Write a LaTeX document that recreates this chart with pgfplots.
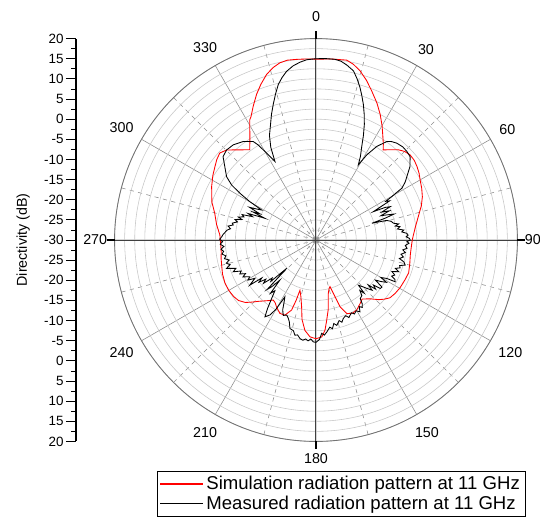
\documentclass[border=0pt]{standalone}
\usepackage{fontspec}
\setmainfont{Liberation Sans}
\usepackage{pgfplots}
\usepackage{pgfplotstable}
\pgfplotsset{compat=1.18}
\usepgfplotslibrary{polar}
\usetikzlibrary{calc}

% angle (deg, clockwise from top)  directivity (dB)
\pgfplotstableread{
a d
0 14.9
5 15.1
9.7 15.3
12 14.6
14.6 13.4
17.5 11.6
20.5 9.5
24 7.2
27.1 5.0
30 2.8
32.3 1.0
34 -0.2
35.2 -1.0
36.7 -2.1
39.4 -1.0
42.3 0.3
45 1.1
47.9 1.5
51 1.4
54 1.0
57 0.5
60 -0.15
64 -0.8
67.9 -1.5
72 -2.5
77.3 -4.0
83 -5.2
88 -5.9
90 -6.1
95 -6.3
99 -6.3
104 -6.0
109.5 -5.6
114 -5.8
119.5 -6.0
124 -6.3
128 -6.7
131 -7.6
133.5 -8.5
137.5 -10.2
142 -11.4
145.2 -10.8
149.8 -9.9
153.5 -9.7
157.3 -10.2
160.2 -12.4
162 -16.1
163.3 -17.9
165 -17.5
167 -16.4
170 -12.5
172.4 -9.9
174.3 -7.5
176.6 -5.9
180 -5.5
183.5 -5.9
187 -7.4
190 -10.0
192.1 -13.0
195 -15.5
197.7 -16.9
198.2 -14.3
199.2 -11.6
202.5 -9.8
206.2 -9.7
210.5 -10.7
213 -11.4
215.4 -11.7
219 -10.6
223 -9.2
226 -7.8
228.5 -6.6
232 -5.6
235.6 -5.2
240 -5.0
244.6 -5.0
250 -5.3
254.2 -5.7
259 -6.0
263 -6.3
268 -6.3
273 -6.1
279 -5.0
284.8 -4.0
290 -2.5
297.1 -0.9
302 0.2
306 1.0
309 1.7
312.1 2.2
315.2 1.5
319.1 -0.4
323.7 -2.2
326.6 -0.2
329 1.9
331.2 4.1
332.2 4.6
335 6.8
337.8 9.05
340.5 11.0
343.4 12.9
346 14.1
348.5 14.9
351 15.2
353.9 15.1
357 15.0
360 14.9
}\simdata

\pgfplotstableread{
a d
0 15.0
3 15.1
6 15.1
8 14.8
10 14.1
12.5 13.0
14.3 11.3
16.1 9.4
17.7 7.5
19.3 5.6
21 3.4
22.7 1.1
24.4 -1.5
26.1 -4.2
28 -6.5
29.4 -8.6
30.8 -5.4
33 -2.3
35.7 0.1
37.5 0.8
39.8 1.3
43 1.6
45.8 1.5
48.5 1.2
52 -0.4
55.1 -2.5
57 -3.6
58.9 -5.1
59.6 -7
60.2 -8.3
61 -10.2
62 -9.3
63.7 -14.1
64.8 -11
65.8 -9.8
67 -12.3
68.3 -10.4
69.5 -12.8
70.5 -11.3
71.6 -9.6
72.5 -12
73.3 -15.5
74.5 -11.8
76 -10.8
77.8 -10.3
79 -9.1
80 -10
81 -8.9
82.3 -9.6
83.5 -8.1
84.6 -8.6
85.8 -7.4
87 -7.1
88 -7.6
89 -6.8
90 -6.6
91 -7.4
92 -6.9
93.5 -7.8
95.2 -7.3
96.5 -8.3
98 -7.6
99.5 -8.6
101 -7.9
102.5 -8.8
104 -7.5
105.7 -7.0
107 -8.3
108.3 -8.0
109.7 -9.1
111 -8.0
112.5 -9.6
114 -8.6
115.5 -9.2
116.5 -8.1
117.8 -7.8
118.5 -10.0
120 -11.4
121 -9.6
122.5 -10.8
124 -12.2
125.5 -9.9
127 -10.0
128.1 -11.9
129.5 -10.8
130.7 -12.9
131.8 -11.3
133.6 -12.6
135 -13.6
136.8 -14.6
137.8 -12.2
139 -13.4
140.5 -12.1
142.9 -11.8
144 -10.5
145.5 -9.7
147 -10.3
148.5 -9.1
150.5 -9.8
152.5 -9.3
154 -9.9
155.6 -9.5
157 -9.1
158.5 -9.8
160.8 -9.4
162.5 -8.6
164 -9.2
166.3 -8.2
168 -8.8
169.5 -7.6
171 -8.1
173.3 -7.0
175 -6.3
176.5 -6.8
178 -5.3
180 -4.6
181.5 -4.7
183 -5.4
184.5 -4.9
186 -5.3
187.5 -4.9
189.2 -5.2
191 -6.0
192.5 -5.8
194 -6.8
196.4 -7.1
198 -8.6
199.5 -9.4
201.3 -10.0
203.5 -9.6
205.5 -10.8
207 -12.5
208.7 -13.9
210 -10.2
211.5 -8.2
213.6 -7.1
215.3 -9.2
217.2 -11.8
219 -13.8
220.5 -12.6
222 -16.6
223.5 -13.9
224.6 -12.8
226 -19.9
227.5 -14.8
229 -15.6
230.5 -13.1
232 -14.2
233.5 -12.4
235 -13.6
235.7 -10.1
237.9 -12.1
239.5 -10.4
241 -11.2
243.2 -9.7
244.5 -10.6
246 -9.3
247.5 -9.9
249 -8.0
250.5 -8.9
252.4 -6.7
254 -7.8
255.5 -7.0
257 -7.9
258.5 -6.8
260 -7.3
261.5 -6.4
263 -6.9
264.5 -6.3
266 -7.1
267.5 -6.2
269 -6.8
270.5 -6.1
272 -6.6
273.5 -6.9
275 -7.4
276.4 -7.8
277.5 -8.6
279 -7.9
280.3 -9.1
281.4 -8.8
283 -10.0
284.2 -9.3
285.5 -10.9
286.5 -9.9
287.8 -11.2
289 -10.6
290.2 -13.2
291.3 -11.9
292.3 -14.5
293 -16.2
294 -12.9
295 -14.6
296.2 -11.6
297.5 -13.3
298.9 -14.6
300.1 -11.0
301.6 -7.8
303.1 -5.0
305.3 -2.8
308.9 -0.9
311.9 1.0
315.2 1.5
319 1.3
323.5 0.4
327.5 -1.0
328.7 -2.4
330.4 -5.2
332.4 -8.0
334 -4.4
336 -1.6
338.5 0.8
340.5 3.1
342.5 5.3
344.5 7.6
346.4 9.75
348.2 11.2
350.1 12.5
352.5 13.6
354.8 14.3
357 14.8
360 15.0
}\measdata

\begin{document}
\begin{tikzpicture}
\begin{polaraxis}[
  name=p, at={(0,0)}, anchor=center,
  scale only axis, width=282pt, height=282pt,
  xmin=0, xmax=360, ymin=0, ymax=50,
  xtick={0,30,...,330},
  xticklabels={90,60,30,,330,300,270,240,210,,150,120},
  minor xtick={15,45,...,345},
  ytick={0,2.5,...,50}, yticklabels={},
  xmajorgrids, xminorgrids, ymajorgrids,
  major x grid style={black!45, line width=0.4pt},
  minor x grid style={black!45, dashed, line width=0.4pt},
  major y grid style={black!22, line width=0.4pt},
  major tick length=0pt, minor tick length=0pt,
  axis line style={black!55, line width=0.6pt},
  xticklabel style={font=\fontsize{10}{12}\selectfont, inner sep=5pt},
  extra x ticks={0,90,180,270}, extra x tick labels={,\raisebox{3pt}{0},,180},
  extra x tick style={major tick length=5pt, tick style={black, line width=0.8pt},
     major x grid style={black!75, line width=0.7pt},
     xticklabel style={inner sep=8.5pt}},
  legend style={at={(axis description cs:1.021,-0.073)}, anchor=north east,
     draw=black, font=\fontsize{13}{14.5}\selectfont,
     inner xsep=2pt, inner ysep=1.5pt, row sep=-1pt},
  legend cell align=left,
  legend image code/.code={\draw[#1, line width=0.8pt] (0cm,0cm) -- (1.05cm,0cm);},
]
\addplot[draw=red, color=red, line width=0.6pt] table[x expr={mod(450-\thisrow{a},360)}, y expr={\thisrow{d}+30}] {\simdata};
\addlegendentry{Simulation radiation pattern at 11 GHz}
\addplot[draw=black, color=black, line width=0.6pt] table[x expr={mod(450-\thisrow{a},360)}, y expr={\thisrow{d}+30}] {\measdata};
\addlegendentry{Measured radiation pattern at 11 GHz}
\end{polaraxis}

\begin{axis}[
  at={($(p.center)+(-168pt,0pt)$)}, anchor=west,
  scale only axis, width=20pt, height=282pt,
  xmin=0, xmax=1, ymin=-50, ymax=50,
  hide x axis, axis y line*=left,
  ytick={-50,-45,...,50},
  yticklabels={20,15,10,5,0,-5,-10,-15,-20,-25,-30,-25,-20,-15,-10,-5,0,5,10,15,20},
  minor y tick num=1, tick align=outside,
  major tick length=7pt, minor tick length=3.5pt,
  tick style={black, line width=0.6pt},
  axis line style={black, line width=0.8pt},
  yticklabel style={font=\fontsize{9.4}{11}\selectfont, inner sep=1.5pt},
  ylabel={Directivity (dB)}, ylabel shift=5pt,
  ylabel style={font=\fontsize{10}{12}\selectfont},
]
\addplot[draw=none] coordinates {(0,0) (1,0)};
\end{axis}
\pgfresetboundingbox
\path ($(p.center)+(-221.2pt,168pt)$) rectangle ($(p.center)+(156.8pt,-194.6pt)$);
\end{tikzpicture}
\end{document}
